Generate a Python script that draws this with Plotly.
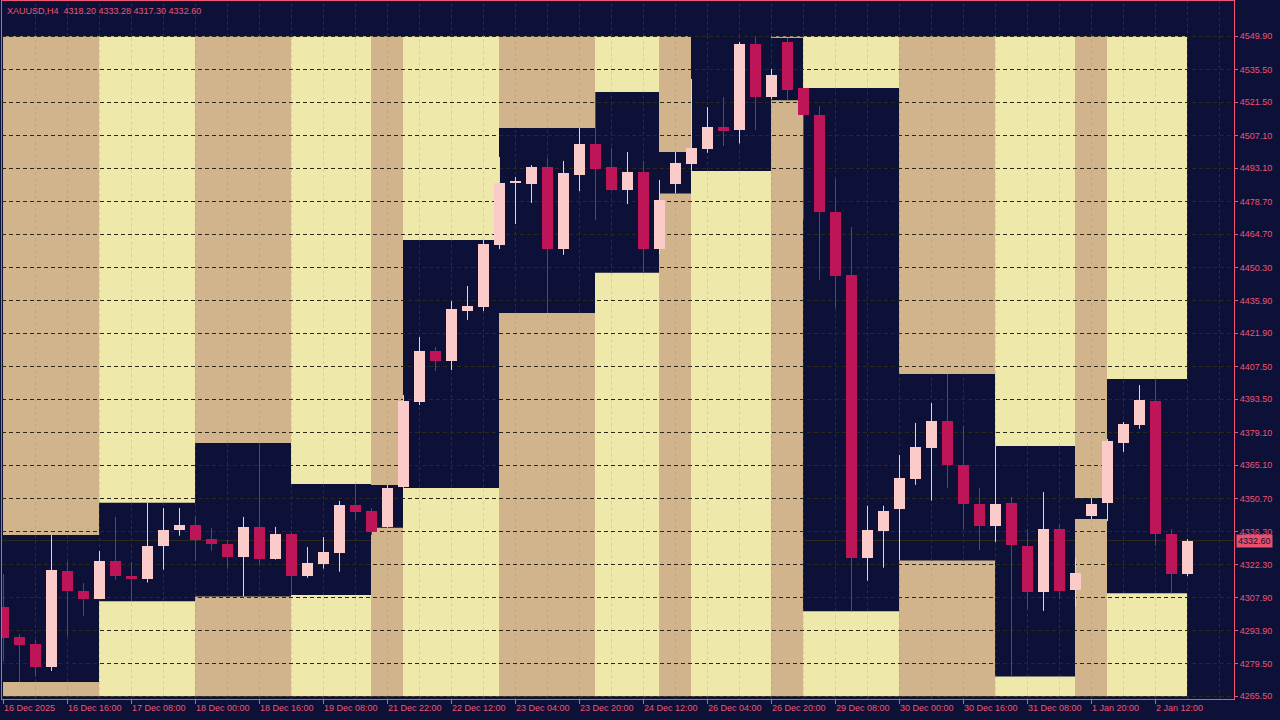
import plotly.graph_objects as go

# ---------------- data ----------------
symbol = "XAUUSD,H4"

open_ = [4304.0, 4291.0, 4288.0, 4278.1, 4319.5, 4310.9, 4307.6, 4323.8, 4317.3, 4316.2,
         4330.4, 4337.0, 4339.3, 4333.3, 4331.1, 4325.7, 4338.5, 4324.8, 4335.4, 4317.5,
         4322.6, 4327.4, 4347.9, 4345.3, 4338.5, 4355.5, 4392.3, 4414.3, 4410.0, 4431.5,
         4433.3, 4460.0, 4486.7, 4486.3, 4493.6, 4458.2, 4490.1, 4503.5, 4493.6, 4483.7,
         4491.4, 4458.2, 4486.3, 4494.9, 4501.3, 4510.9, 4509.6, 4546.5, 4523.8, 4547.5,
         4527.6, 4516.0, 4474.2, 4447.2, 4325.2, 4336.9, 4346.0, 4359.3, 4372.5, 4384.1,
         4365.2, 4348.4, 4339.0, 4348.8, 4330.3, 4310.4, 4337.6, 4311.3, 4343.3, 4348.8,
         4374.6, 4382.4, 4392.7, 4335.4, 4318.20]
high = [4318.2, 4292.3, 4289.8, 4335.0, 4323.5, 4314.3, 4328.1, 4342.8, 4323.4, 4348.9,
        4346.6, 4346.6, 4343.2, 4338.0, 4332.9, 4342.8, 4374.6, 4338.5, 4336.0, 4329.8,
        4334.1, 4349.7, 4357.0, 4346.6, 4356.6, 4395.3, 4420.3, 4416.0, 4435.8, 4442.3,
        4462.1, 4497.9, 4489.3, 4494.4, 4497.5, 4496.2, 4510.4, 4525.9, 4501.8, 4500.0,
        4496.2, 4488.0, 4500.0, 4531.5, 4519.4, 4523.7, 4547.5, 4549.9, 4535.8, 4549.2,
        4527.6, 4519.8, 4488.5, 4467.7, 4347.6, 4347.6, 4369.5, 4383.3, 4391.9, 4404.4,
        4382.0, 4355.3, 4373.4, 4351.4, 4337.6, 4353.5, 4339.7, 4325.1, 4350.9, 4376.4,
        4383.7, 4399.6, 4402.2, 4337.6, 4333.28]
low = [4280.4, 4271.7, 4273.9, 4276.4, 4291.2, 4300.2, 4307.4, 4315.7, 4306.5, 4314.5,
       4320.1, 4334.7, 4323.8, 4328.2, 4320.5, 4308.5, 4322.2, 4324.4, 4309.1, 4316.6,
       4320.5, 4319.2, 4341.5, 4335.0, 4338.1, 4355.3, 4391.0, 4405.7, 4406.1, 4427.7,
       4431.5, 4458.2, 4469.0, 4478.1, 4430.7, 4455.7, 4483.2, 4470.7, 4483.2, 4477.6,
       4448.0, 4456.0, 4482.2, 4491.9, 4499.7, 4502.6, 4503.7, 4509.6, 4522.8, 4522.3,
       4471.0, 4445.0, 4432.8, 4302.1, 4315.3, 4320.9, 4324.0, 4356.6, 4349.8, 4355.3,
       4337.6, 4328.5, 4332.0, 4274.0, 4303.1, 4302.3, 4307.4, 4304.0, 4341.9, 4341.0,
       4370.8, 4380.7, 4330.3, 4309.9, 4317.30]
close = [4290.8, 4287.6, 4278.1, 4319.9, 4310.9, 4307.6, 4323.8, 4317.5, 4316.2, 4330.3,
         4337.2, 4339.3, 4333.0, 4331.3, 4325.7, 4338.5, 4324.8, 4335.4, 4317.5, 4322.9,
         4327.7, 4347.9, 4344.9, 4336.3, 4355.3, 4392.7, 4414.3, 4410.0, 4432.4, 4433.7,
         4460.4, 4486.7, 4486.7, 4493.6, 4458.2, 4491.0, 4503.5, 4492.7, 4483.7, 4491.4,
         4458.2, 4479.4, 4495.3, 4501.8, 4510.9, 4509.1, 4546.5, 4523.8, 4533.2, 4526.8,
         4516.0, 4474.2, 4446.7, 4325.2, 4337.2, 4345.5, 4359.7, 4372.9, 4384.1, 4365.2,
         4348.4, 4339.0, 4348.4, 4330.7, 4310.4, 4337.6, 4310.9, 4318.6, 4348.4, 4375.5,
         4382.8, 4393.2, 4335.4, 4318.2, 4332.60]

# number of bars in each trading day (16 Dec 2025 ... 2 Jan 2026)
day_sizes = [6, 6, 6, 6, 1, 6, 6, 5, 1, 6, 1, 6, 6, 6, 1, 6]
# bar index where each day's zone begins (day 00:00 mapped onto the bar axis)
band_start = [0, 6, 12, 18, 23, 25, 31, 37, 41, 43, 48, 50, 56, 62, 67, 69]
band_end_last = 74
band_top_price = 4549.9
band_bottom_price = 4265.5

x_tick_idx = [0, 4, 8, 12, 16, 20, 24, 28, 32, 36, 40, 44, 48, 52, 56, 60, 64, 68, 72]
x_tick_text = ["16 Dec 2025", "16 Dec 16:00", "17 Dec 08:00", "18 Dec 00:00", "18 Dec 16:00",
               "19 Dec 08:00", "21 Dec 22:00", "22 Dec 12:00", "23 Dec 04:00", "23 Dec 20:00",
               "24 Dec 12:00", "26 Dec 04:00", "26 Dec 20:00", "29 Dec 08:00", "30 Dec 00:00",
               "30 Dec 16:00", "31 Dec 08:00", "1 Jan 20:00", "2 Jan 12:00"]
y_tick_vals = [4265.5, 4279.5, 4293.9, 4307.9, 4322.3, 4336.3, 4350.7, 4365.1, 4379.1, 4393.5,
               4407.5, 4421.9, 4435.9, 4450.3, 4464.7, 4478.7, 4493.1, 4507.1, 4521.5, 4535.5,
               4549.9]

# ---------------- style ----------------
NAVY = "#0D1037"
TAN = "#D2B48C"
YELLOW = "#EEE8AA"
BULL = "#FBCBCA"
BEAR = "#BE1558"
PINK = "#EE5574"
HGRID = "#2C2819"
VGRID_NAVY = "#2E2E3C"
VGRID_ON = {TAN: "#E98AA6", YELLOW: "#D8D08E"}
FONT = "Liberation Sans"
EDGE = 1.0 / 32.0   # half a pixel in bar units, keeps zone edges crisp

n = len(open_)
X_LEFT, X_RIGHT = -0.094, 76.906
Y_BOTTOM, Y_TOP = 4264.33, 4565.11

# day high / low from the bars of each day
day_hi, day_lo = [], []
pos = 0
for s in day_sizes:
    day_hi.append(max(high[pos:pos + s]))
    day_lo.append(min(low[pos:pos + s]))
    pos += s
band_end = band_start[1:] + [band_end_last]
band_color = [TAN if k % 2 == 0 else YELLOW for k in range(len(band_start))]

shapes = []
for k in range(len(band_start)):
    x0, x1 = band_start[k] - EDGE, band_end[k] - EDGE
    c = band_color[k]
    shapes.append(dict(type="rect", xref="x", yref="y", x0=x0, x1=x1,
                       y0=day_hi[k], y1=band_top_price, fillcolor=c,
                       line=dict(width=0), layer="below"))
    shapes.append(dict(type="rect", xref="x", yref="y", x0=x0, x1=x1,
                       y0=band_bottom_price, y1=day_lo[k], fillcolor=c,
                       line=dict(width=0), layer="below"))

# vertical dashed grid, coloured per region it crosses
def vseg(xv, ya, yb, col):
    if yb - ya <= 0.01:
        return
    shapes.append(dict(type="line", xref="x", yref="y", x0=xv, x1=xv, y0=ya, y1=yb,
                       line=dict(color=col, width=1, dash="3px,3px"), layer="below"))

for g in range(2, 77, 2):
    b = None
    for k in range(len(band_start)):
        if band_start[k] <= g < band_end[k]:
            b = k
            break
    if b is None:
        vseg(g, Y_BOTTOM, Y_TOP, VGRID_NAVY)
    else:
        oc = VGRID_ON[band_color[b]]
        vseg(g, band_top_price, Y_TOP, VGRID_NAVY)
        vseg(g, day_hi[b], band_top_price, oc)
        vseg(g, day_lo[b], day_hi[b], VGRID_NAVY)
        vseg(g, band_bottom_price, day_lo[b], oc)
        vseg(g, Y_BOTTOM, band_bottom_price, VGRID_NAVY)

# current price line
last = close[-1]
shapes.append(dict(type="line", xref="paper", yref="y", x0=0, x1=1, y0=last, y1=last,
                   line=dict(color="#2F2B1C", width=1), layer="below"))

fig = go.Figure()

bull_idx = [i for i in range(n) if close[i] >= open_[i]]
bear_idx = [i for i in range(n) if close[i] < open_[i]]

for idx, col in ((bull_idx, BULL), (bear_idx, BEAR)):
    fig.add_trace(go.Bar(
        x=idx,
        base=[min(open_[i], close[i]) for i in idx],
        y=[max(abs(close[i] - open_[i]), 0.45) for i in idx],
        width=0.69, marker=dict(color=col, line=dict(width=0)),
        hoverinfo="skip"))
    wx, wy = [], []
    for i in idx:
        wx += [i, i, None]
        wy += [low[i], high[i], None]
    fig.add_trace(go.Scatter(x=wx, y=wy, mode="lines", line=dict(color=col, width=1),
                             hoverinfo="skip"))

annotations = []
for i, t in zip(x_tick_idx, x_tick_text):
    annotations.append(dict(x=i, xref="x", y=0, yref="paper", text=t, showarrow=False,
                            xanchor="left", yanchor="top", xshift=-2, yshift=-2,
                            font=dict(family=FONT, size=9, color=PINK)))
header = f"{symbol}\u00a0 {open_[-1]:.2f} {high[-1]:.2f} {low[-1]:.2f} {close[-1]:.2f}"
annotations.append(dict(x=0, xref="paper", y=1, yref="paper", text=header, showarrow=False,
                        xanchor="left", yanchor="top", xshift=3, yshift=-3,
                        font=dict(family=FONT, size=9, color=PINK)))
annotations.append(dict(x=1, xref="paper", y=last, yref="y", text=f"{last:.2f}",
                        showarrow=False, xanchor="left", yanchor="middle", xshift=2,
                        bgcolor="#E8506E", borderpad=1,
                        font=dict(family=FONT, size=9, color=NAVY)))

fig.update_layout(
    width=1280, height=720,
    margin=dict(l=2, r=46, t=1, b=21),
    paper_bgcolor=NAVY, plot_bgcolor=NAVY,
    showlegend=False, barmode="overlay", bargap=0,
    shapes=shapes, annotations=annotations,
    xaxis=dict(range=[X_LEFT, X_RIGHT], showgrid=False, zeroline=False,
               tickvals=x_tick_idx, showticklabels=False, ticks="outside", ticklen=4,
               tickcolor=PINK, showline=True, linecolor=PINK, linewidth=1, mirror=True,
               fixedrange=True),
    yaxis=dict(side="right", range=[Y_BOTTOM, Y_TOP], tickvals=y_tick_vals,
               ticktext=[f"{v:.2f}" for v in y_tick_vals], ticks="outside", ticklen=3,
               tickcolor=PINK, showline=True, linecolor=PINK, linewidth=1, mirror=True,
               showgrid=True, gridcolor=HGRID, gridwidth=1, griddash="4px,3px",
               zeroline=False, fixedrange=True,
               tickfont=dict(family=FONT, size=9, color=PINK)),
)

fig.write_html("out.html", config={"displayModeBar": False},
               post_script="document.body.style.margin='0';document.body.style.overflow='hidden';")
